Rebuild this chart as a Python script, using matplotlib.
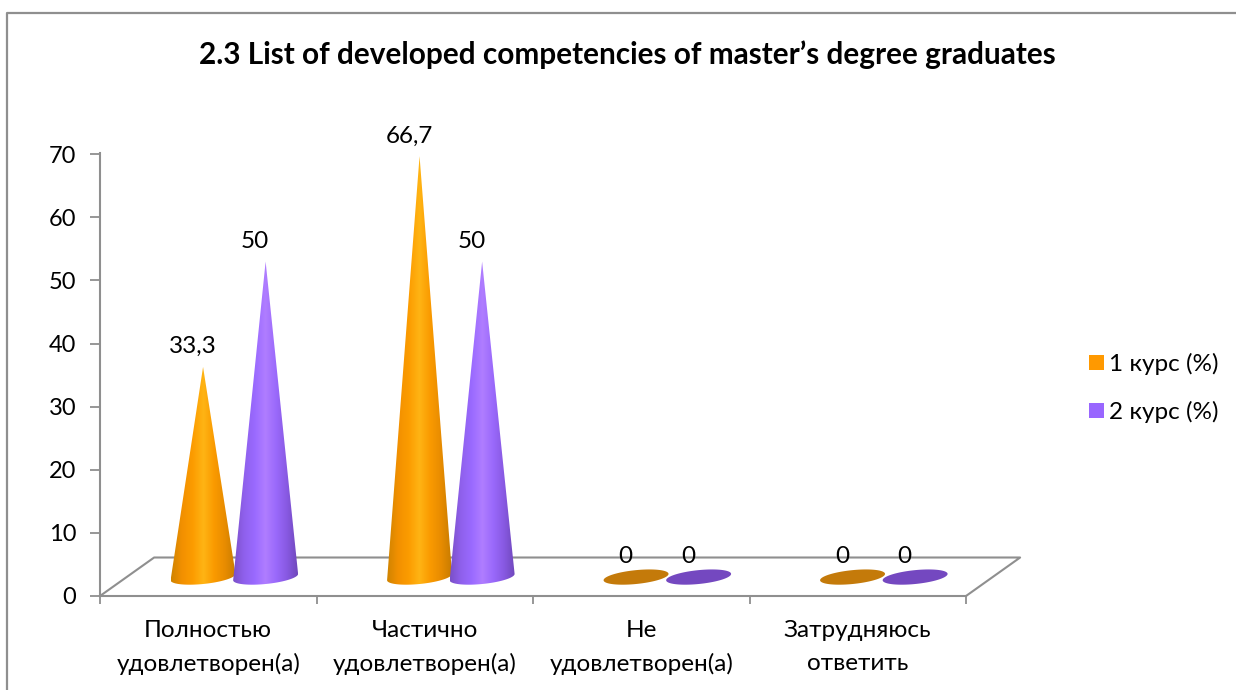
import numpy as np
import matplotlib
matplotlib.use("Agg")
import matplotlib.pyplot as plt
from matplotlib.colors import LinearSegmentedColormap
from matplotlib.lines import Line2D
from matplotlib.patches import Patch, Polygon

categories = ["Полностью\nудовлетворен(а)", "Частично\nудовлетворен(а)",
              "Не\nудовлетворен(а)", "Затрудняюсь\nответить"]
course1 = [33.3, 66.7, 0, 0]
course2 = [50, 50, 0, 0]
series_names = ["1 курс (%)", "2 курс (%)"]
yticks = [0, 10, 20, 30, 40, 50, 60, 70]
title = "2.3 List of developed competencies of master’s degree graduates"

plt.rcParams["font.family"] = ["Lato", "Noto Sans"]

W, H = 1236, 690
GREY = "#8f8f8f"
FLOOR_Y = 3.0           # where the cone bases stand on the floor
DEPTH_X, DEPTH_Y = 0.25, 6.1
RX, RY, TILT = 0.15, 1.1, 0.5

orange_cmap = LinearSegmentedColormap.from_list(
    "o", ["#d08400", "#f29000", "#fc9c00", "#ffb414", "#fa9a00", "#e88c00", "#c87c00"])
purple_cmap = LinearSegmentedColormap.from_list(
    "p", ["#7a50c8", "#8f60ec", "#9a6aff", "#b07dff", "#9a69fb", "#8859e2", "#7048bc"])


def draw_cone(ax, cx, value, cmap, flat_color):
    t = np.linspace(np.pi, 2 * np.pi, 60)
    if value == 0:
        t = np.linspace(0, 2 * np.pi, 120)
        xs = cx + RX * np.cos(t)
        ys = FLOOR_Y + RY * np.sin(t) + TILT * np.cos(t)
        ax.add_patch(Polygon(np.c_[xs, ys], closed=True, fc=flat_color, ec="none", zorder=3))
        return
    xs = cx + RX * np.cos(t)
    ys = FLOOR_Y + RY * np.sin(t) + TILT * np.cos(t)
    pts = np.vstack([np.c_[xs, ys], [cx, FLOOR_Y + value]])
    poly = Polygon(pts, closed=True, fc="none", ec="none", transform=ax.transData)
    ax.add_patch(poly)
    im = ax.imshow(np.linspace(0, 1, 200).reshape(1, -1), cmap=cmap, aspect="auto",
                   extent=[cx - RX, cx + RX, FLOOR_Y - RY - 0.5, FLOOR_Y + value], zorder=3)
    im.set_clip_path(poly)


fig = plt.figure(figsize=(W / 100, H / 100), dpi=100)
ax = fig.add_axes([100 / W, 1 - 596 / H, 866 / W, 443 / H])
ax.patch.set_alpha(0)

# outer chart frame
fig.add_artist(Line2D([7 / W, 7 / W, 1], [0, 1 - 13 / H, 1 - 13 / H], color=GREY, lw=1.6))

# floor of the 3d box
ax.plot([0, DEPTH_X, 4 + DEPTH_X, 4], [0, DEPTH_Y, DEPTH_Y, 0],
        color=GREY, lw=1.5, clip_on=False, zorder=1)

for i in range(len(categories)):
    c1 = i + 0.476
    c2 = i + 0.765
    draw_cone(ax, c1, course1[i], orange_cmap, "#c47a0a")
    draw_cone(ax, c2, course2[i], purple_cmap, "#7448c0")
    for cx, v in ((c1, course1[i]), (c2, course2[i])):
        ax.annotate(f"{v:g}".replace(".", ","), (cx, FLOOR_Y + v), xytext=(-7.5, 14.5),
                    textcoords="offset points", ha="center", va="center",
                    fontsize=17.5, color="black", zorder=5)

ax.set_xlim(0, 4)
ax.set_ylim(0, 70.2)
for s in ("top", "right"):
    ax.spines[s].set_visible(False)
for s in ("left", "bottom"):
    ax.spines[s].set_color(GREY)
    ax.spines[s].set_linewidth(1.5)

ax.set_yticks(yticks)
ax.tick_params(axis="y", length=7, width=1.3, color=GREY, pad=10, labelsize=17)
ax.set_xticks(range(5))
ax.set_xticklabels([])
ax.tick_params(axis="x", which="major", length=5.5, width=1.3, color=GREY)
ax.set_xticks(np.arange(4) + 0.5, categories, minor=True)
ax.tick_params(axis="x", which="minor", length=0, pad=17, labelsize=17.5)
for lab in ax.get_xticklabels(minor=True):
    lab.set_linespacing(1.7)

fig.text(627 / W, 1 - 55 / H, title, ha="center", va="center",
         fontsize=21.4, fontweight="bold", color="black")

handles = [Patch(fc="#ff9900", ec="none"), Patch(fc="#9966ff", ec="none")]
fig.legend(handles, series_names, loc="center left", bbox_to_anchor=(1089 / W, 1 - 388 / H),
           frameon=False, fontsize=17.5, handlelength=0.62, handleheight=0.62,
           handletextpad=0.22, labelspacing=1.07, borderpad=0, borderaxespad=0)

fig.savefig("out.png", dpi=100)
